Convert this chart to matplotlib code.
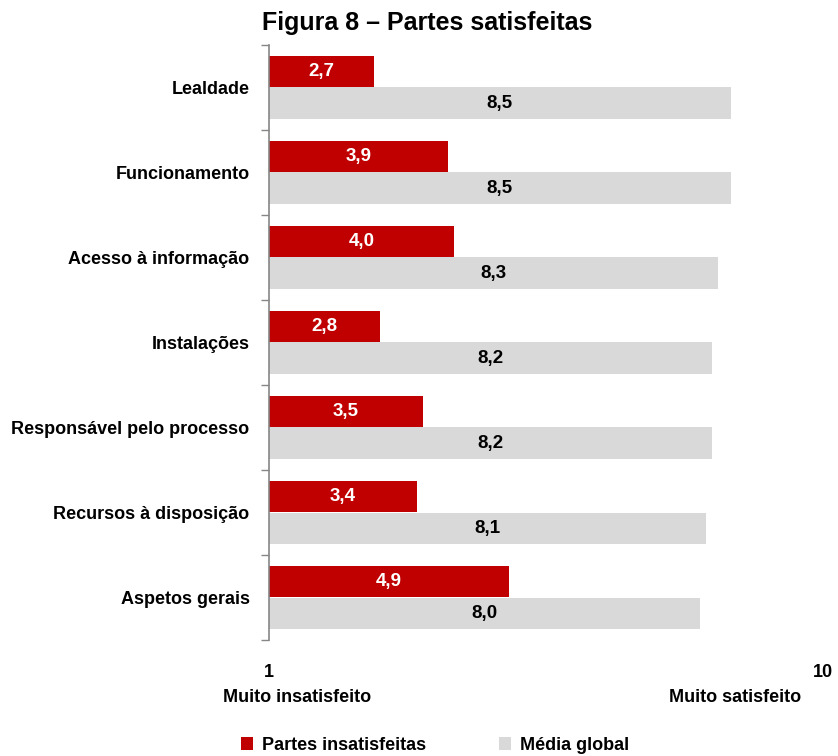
import matplotlib.pyplot as plt
import numpy as np

RED = '#c00000'
GREY = '#d9d9d9'
INK = '#000000'

categories = ['Lealdade', 'Funcionamento', 'Acesso à informação', 'Instalações',
              'Responsável pelo processo', 'Recursos à disposição', 'Aspetos gerais']
insatisfeitas = [2.7, 3.9, 4.0, 2.8, 3.5, 3.4, 4.9]
media_global = [8.5, 8.5, 8.3, 8.2, 8.2, 8.1, 8.0]
series_names = ['Partes insatisfeitas', 'Média global']

plt.rcParams['font.family'] = ['Liberation Sans', 'DejaVu Sans']
plt.rcParams['font.weight'] = 'bold'

fig = plt.figure(figsize=(8.38, 7.56), dpi=100, facecolor='white')
ax = fig.add_axes([269 / 838, 1 - 640 / 756, (823 - 269) / 838, (640 - 45) / 756])

y = np.arange(len(categories))
h = 0.365
red_bars = ax.barh(y - h / 2, np.array(insatisfeitas) - 1, left=1, height=h,
                   color=RED, label=series_names[0])
grey_bars = ax.barh(y + h / 2, np.array(media_global) - 1, left=1, height=h,
                    color=GREY, label=series_names[1])

for b, v in zip(red_bars, insatisfeitas):
    ax.text(b.get_x() + b.get_width() / 2, b.get_y() + b.get_height() / 2,
            f'{v:.1f}'.replace('.', ','), color='white', fontsize=13.5,
            weight='bold', ha='center', va='center')
for b, v in zip(grey_bars, media_global):
    ax.text(b.get_x() + b.get_width() / 2, b.get_y() + b.get_height() / 2,
            f'{v:.1f}'.replace('.', ','), color=INK, fontsize=13.5,
            weight='bold', ha='center', va='center')

ax.set_xlim(1, 10)
ax.set_ylim(len(categories) - 0.5, -0.5)

ax.set_yticks(y)
ax.set_yticklabels(categories, fontsize=13, weight='bold')
ax.set_yticks(np.arange(len(categories) + 1) - 0.5, minor=True)
ax.tick_params(axis='y', which='major', length=0, pad=14)
ax.tick_params(axis='y', which='minor', length=6, color='#868686', width=1)

ax.set_xticks([1, 10])
ax.set_xticklabels(['1', '10'], fontsize=13, weight='bold')
ax.tick_params(axis='x', length=0, pad=17)

for s in ['top', 'right', 'bottom']:
    ax.spines[s].set_visible(False)
ax.spines['left'].set_color('#868686')
ax.spines['left'].set_linewidth(1.2)

fig.text(297 / 838, 1 - 698 / 756, 'Muito insatisfeito', fontsize=13,
         weight='bold', ha='center', va='center')
fig.text(735 / 838, 1 - 698 / 756, 'Muito satisfeito', fontsize=13,
         weight='bold', ha='center', va='center')

fig.text(427 / 838, 1 - 23 / 756, 'Figura 8 – Partes satisfeitas', fontsize=18,
         weight='bold', ha='center', va='center')

leg = fig.legend(handles=[red_bars, grey_bars], labels=series_names,
                 loc='center', bbox_to_anchor=(435 / 838, 1 - 745 / 756),
                 ncol=2, frameon=False, handlelength=0.7,
                 handleheight=0.7, handletextpad=0.5, columnspacing=4.0,
                 prop={'weight': 'bold', 'size': 13})

fig.savefig('out.png', dpi=100, facecolor='white')
